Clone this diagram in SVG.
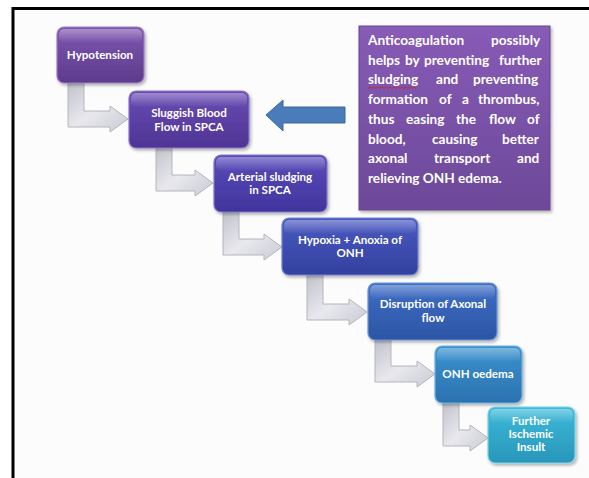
<svg xmlns="http://www.w3.org/2000/svg" width="589" height="478" viewBox="0 0 589 478">
<defs>
<style>
.nt{font-family:Lato,"Liberation Sans",sans-serif;font-weight:bold;font-size:11.6px;fill:#fff;text-anchor:middle}
.bt{font-family:Lato,"Liberation Sans",sans-serif;font-weight:bold;font-size:13.6px;fill:#fff}
.node{stroke-width:1.2}
.gloss{fill:url(#gl)}
.conn{fill:url(#cg);stroke:#b4b4be;stroke-width:1}
</style>
<linearGradient id="gl" x1="0" y1="0" x2="0" y2="1"><stop offset="0" stop-color="#fff" stop-opacity="0.35"/><stop offset="1" stop-color="#fff" stop-opacity="0"/></linearGradient>
<linearGradient id="cg" x1="0" y1="0" x2="1" y2="1"><stop offset="0" stop-color="#c2c2cc"/><stop offset="0.5" stop-color="#e8e8ee"/><stop offset="1" stop-color="#cacad4"/></linearGradient>
<linearGradient id="g1" x1="0" y1="0" x2="0" y2="1"><stop offset="0" stop-color="#7e56b0"/><stop offset="1" stop-color="#5d3b8c"/></linearGradient>
<linearGradient id="g2" x1="0" y1="0" x2="0" y2="1"><stop offset="0" stop-color="#6a4cb4"/><stop offset="1" stop-color="#4e3494"/></linearGradient>
<linearGradient id="g3" x1="0" y1="0" x2="0" y2="1"><stop offset="0" stop-color="#5a4cba"/><stop offset="1" stop-color="#40349c"/></linearGradient>
<linearGradient id="g4" x1="0" y1="0" x2="0" y2="1"><stop offset="0" stop-color="#4a5ac2"/><stop offset="1" stop-color="#33409e"/></linearGradient>
<linearGradient id="g5" x1="0" y1="0" x2="0" y2="1"><stop offset="0" stop-color="#3f6ec6"/><stop offset="1" stop-color="#2c55a4"/></linearGradient>
<linearGradient id="g6" x1="0" y1="0" x2="0" y2="1"><stop offset="0" stop-color="#3a92ce"/><stop offset="1" stop-color="#2b72b0"/></linearGradient>
<linearGradient id="g7" x1="0" y1="0" x2="0" y2="1"><stop offset="0" stop-color="#3cbad9"/><stop offset="1" stop-color="#2896ba"/></linearGradient>
<linearGradient id="gb" x1="0" y1="0" x2="0" y2="1"><stop offset="0" stop-color="#875bb6"/><stop offset="1" stop-color="#6c4999"/></linearGradient>
<filter id="sh" x="-10%" y="-10%" width="130%" height="130%"><feDropShadow dx="1.5" dy="2" stdDeviation="1.5" flood-color="#000" flood-opacity="0.3"/></filter>
</defs>
<rect width="589" height="478" fill="#fff"/>
<rect x="14" y="9" width="575" height="469" fill="#fcfcfc"/>
<path d="M13 478 V8.5 H589" fill="none" stroke="#000" stroke-width="3"/>

<g id="connectors">
<path class="conn" d="M68 83 h16 V111 H110 V106 L128 119 L110 132 V127 H68 Z"/>
<path class="conn" d="M156 147 h16 V175 H195 V170 L213 183 L195 196 V191 H156 Z"/>
<path class="conn" d="M223 212 h16 V239 H264 V234 L282 247 L264 260 V255 H223 Z"/>
<path class="conn" d="M307 275 h16 V304 H349 V299 L367 312 L349 325 V320 H307 Z"/>
<path class="conn" d="M375 340 h16 V366 H417 V361 L435 374 L417 387 V382 H375 Z"/>
<path class="conn" d="M443 403 h16 V430 H470 V425 L488 438 L470 451 V446 H443 Z"/>
<path d="M266 115 L283 100 V107 H345 V123 H283 V131 Z" fill="#4a7cba" stroke="#3a679e" stroke-width="1"/>
</g>

<g id="n1">
<rect class="node" x="57" y="27" width="87" height="56" rx="7" fill="url(#g1)" stroke="#9b7dc6" filter="url(#sh)"/>
<rect class="gloss" x="59" y="29" width="83" height="14" rx="5"/>
<text class="nt" x="100" y="59">Hypotension</text>
</g>
<g id="n2">
<rect class="node" x="129" y="91" width="120" height="57" rx="7" fill="url(#g2)" stroke="#8a78cc" filter="url(#sh)"/>
<rect class="gloss" x="131" y="93" width="116" height="14" rx="5"/>
<text class="nt" x="189" y="117">Sluggish Blood</text>
<text class="nt" x="189" y="131">Flow in SPCA</text>
</g>
<g id="n3">
<rect class="node" x="214" y="155" width="113" height="57" rx="7" fill="url(#g3)" stroke="#7c78cc" filter="url(#sh)"/>
<rect class="gloss" x="216" y="157" width="109" height="14" rx="5"/>
<text class="nt" x="270" y="181">Arterial sludging</text>
<text class="nt" x="270" y="194">in SPCA</text>
</g>
<g id="n4">
<rect class="node" x="282" y="218" width="136" height="57" rx="7" fill="url(#g4)" stroke="#7084d0" filter="url(#sh)"/>
<rect class="gloss" x="284" y="220" width="132" height="14" rx="5"/>
<text class="nt" x="350" y="244">Hypoxia + Anoxia of</text>
<text class="nt" x="350" y="257">ONH</text>
</g>
<g id="n5">
<rect class="node" x="368" y="283" width="129" height="57" rx="7" fill="url(#g5)" stroke="#6c94d4" filter="url(#sh)"/>
<rect class="gloss" x="370" y="285" width="125" height="14" rx="5"/>
<text class="nt" x="433" y="308">Disruption of Axonal</text>
<text class="nt" x="433" y="322">flow</text>
</g>
<g id="n6">
<rect class="node" x="435" y="346" width="87" height="57" rx="7" fill="url(#g6)" stroke="#6cb2dc" filter="url(#sh)"/>
<rect class="gloss" x="437" y="348" width="83" height="14" rx="5"/>
<text class="nt" x="478" y="378">ONH oedema</text>
</g>
<g id="n7">
<rect class="node" x="488" y="407" width="87" height="56" rx="7" fill="url(#g7)" stroke="#7cd2e8" filter="url(#sh)"/>
<rect class="gloss" x="490" y="409" width="83" height="14" rx="5"/>
<text class="nt" x="531" y="425">Further</text>
<text class="nt" x="531" y="438">Ischemic</text>
<text class="nt" x="531" y="451">Insult</text>
</g>

<g id="note">
<rect x="359" y="26" width="191" height="184" fill="url(#gb)" stroke="#65468e" stroke-width="1" filter="url(#sh)"/>
<text class="bt" y="45"><tspan x="368">Anticoagulation</tspan><tspan x="491">possibly</tspan></text>
<text class="bt" y="64.7"><tspan x="368">helps</tspan><tspan x="405">by</tspan><tspan x="424">preventing</tspan><tspan x="499">further</tspan></text>
<text class="bt" y="84.4"><tspan x="368">sludging</tspan><tspan x="436">and</tspan><tspan x="473">preventing</tspan></text>
<text class="bt" y="104.1"><tspan x="368">formation</tspan><tspan x="439">of</tspan><tspan x="462">a</tspan><tspan x="478">thrombus,</tspan></text>
<text class="bt" y="123.9"><tspan x="368">thus</tspan><tspan x="406">easing</tspan><tspan x="456">the</tspan><tspan x="489">flow</tspan><tspan x="527">of</tspan></text>
<text class="bt" y="143.6"><tspan x="368">blood,</tspan><tspan x="432">causing</tspan><tspan x="502">better</tspan></text>
<text class="bt" y="163.3"><tspan x="368">axonal</tspan><tspan x="434">transport</tspan><tspan x="517">and</tspan></text>
<text class="bt" y="183"><tspan x="368">relieving ONH edema.</tspan></text>
<path d="M368 88.5 l2 -1.5 l2 1.5 l2 -1.5 l2 1.5 l2 -1.5 l2 1.5 l2 -1.5 l2 1.5 l2 -1.5 l2 1.5 l2 -1.5 l2 1.5 l2 -1.5 l2 1.5 l2 -1.5 l2 1.5 l2 -1.5 l2 1.5 l2 -1.5 l2 1.5 l2 -1.5 l2 1.5 l2 -1.5 l2 1.5" fill="none" stroke="#d02020" stroke-width="0.8"/>
</g>
</svg>
